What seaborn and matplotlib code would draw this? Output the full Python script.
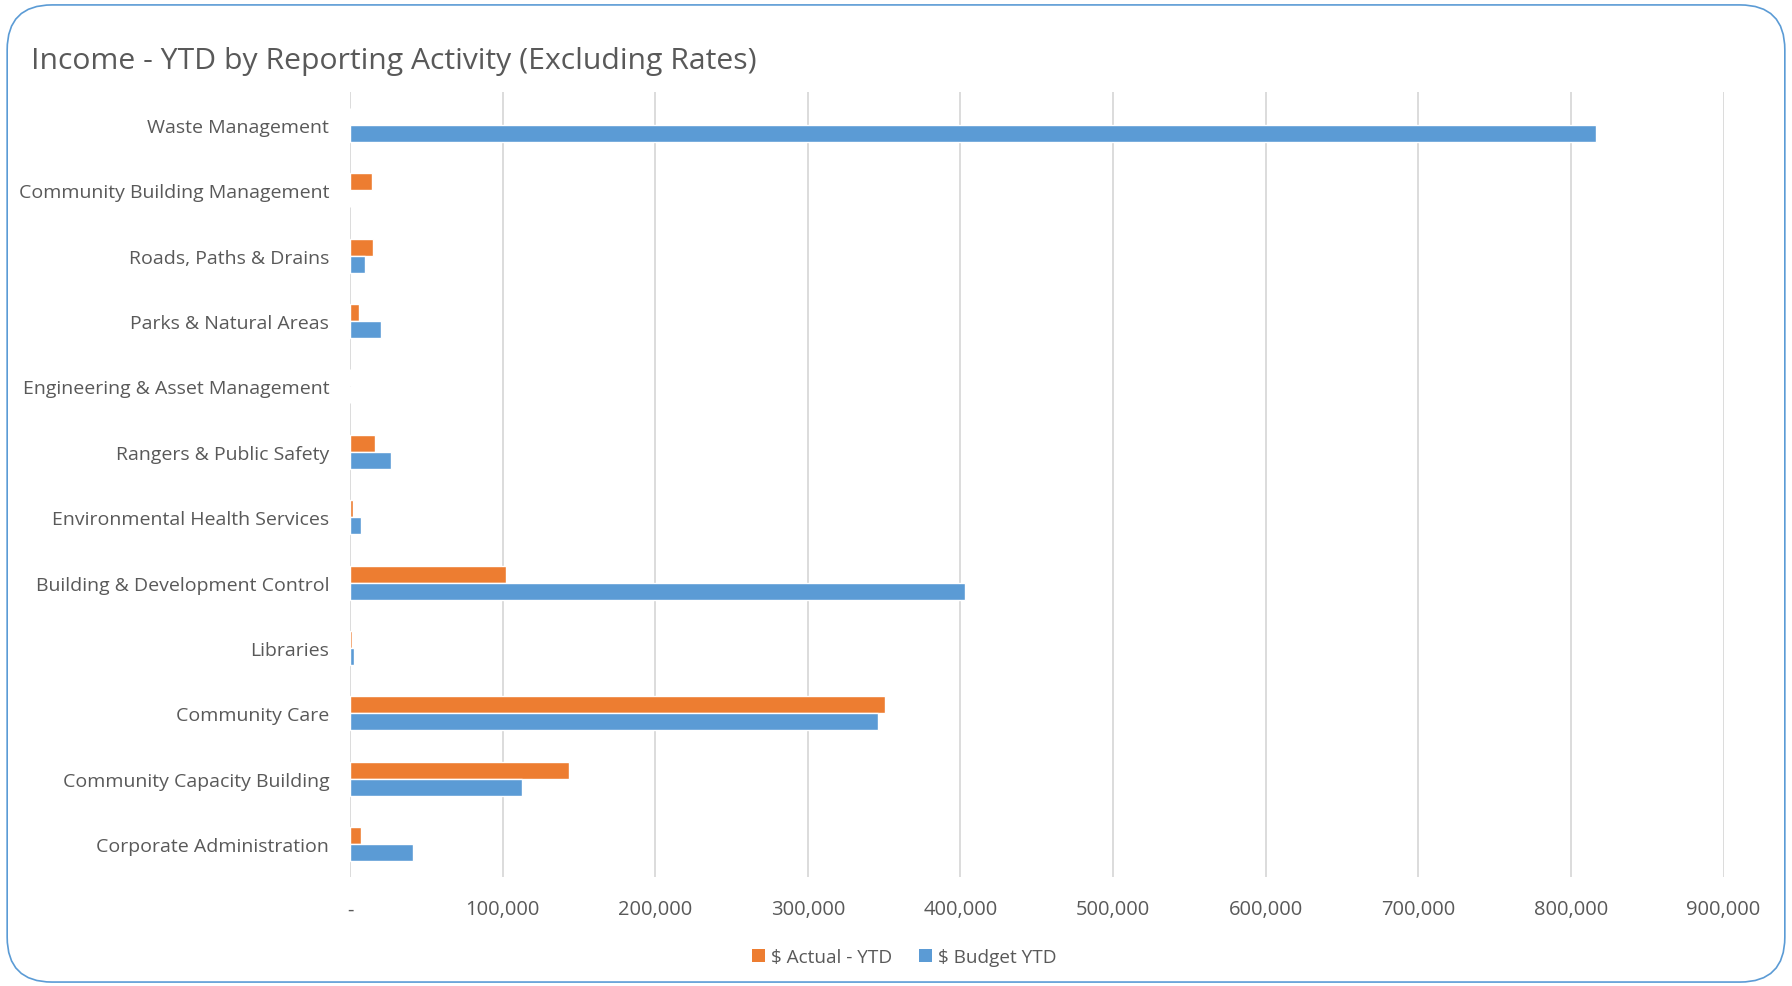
import matplotlib
matplotlib.use("Agg")
import matplotlib.pyplot as plt
from matplotlib.patches import FancyBboxPatch, Patch
from matplotlib.ticker import FuncFormatter
import seaborn as sns
import pandas as pd

categories = [
    "Waste Management",
    "Community Building Management",
    "Roads, Paths & Drains",
    "Parks & Natural Areas",
    "Engineering & Asset Management",
    "Rangers & Public Safety",
    "Environmental Health Services",
    "Building & Development Control",
    "Libraries",
    "Community Care",
    "Community Capacity Building",
    "Corporate Administration",
]
actual_ytd = [0, 14500, 15200, 6000, 0, 16700, 2100, 102000, 1400, 350800, 143600, 7200]
budget_ytd = [816300, 0, 9700, 20000, 0, 27200, 7300, 403300, 2500, 346300, 112800, 41000]
series_names = ["$ Actual - YTD", "$ Budget YTD"]
x_ticks = [0, 100000, 200000, 300000, 400000, 500000, 600000, 700000, 800000, 900000]

df = pd.DataFrame({
    "Activity": categories * 2,
    "Value": actual_ytd + budget_ytd,
    "Series": [series_names[0]] * len(categories) + [series_names[1]] * len(categories),
})

sns.set_theme(style="white")
FONT = ["Open Sans", "DejaVu Sans"]
plt.rcParams["font.family"] = FONT
TXT = "#595959"
colors = {series_names[0]: "#ED7D31", series_names[1]: "#5B9BD5"}

fig = plt.figure(figsize=(17.92, 9.87), dpi=100)
ax = fig.add_axes([0.1953, 0.1104, 0.9618 - 0.1953, 0.9058 - 0.1104])

sns.barplot(data=df, y="Activity", x="Value", hue="Series", order=categories,
            hue_order=series_names, palette=colors, orient="h", width=0.52,
            ax=ax, legend=False, saturation=1)

ax.set_xlim(0, 900000)
ax.set_xticks(x_ticks)
ax.xaxis.set_major_formatter(FuncFormatter(lambda v, p: "-" if v == 0 else f"{int(v):,}"))
ax.grid(axis="x", color="#D9D9D9", linewidth=1.3)
ax.grid(axis="y", visible=False)
ax.set_axisbelow(True)
for s in ax.spines.values():
    s.set_visible(False)
ax.set_xlabel("")
ax.set_ylabel("")
ax.tick_params(axis="x", colors=TXT, labelsize=14.5, length=0, pad=16)
ax.tick_params(axis="y", colors=TXT, labelsize=14, length=0, pad=15)
for lbl in ax.get_xticklabels() + ax.get_yticklabels():
    lbl.set_color(TXT)

handles = [Patch(facecolor=colors[s], edgecolor="none", label=s) for s in series_names]
fig.legend(handles=handles, loc="center", bbox_to_anchor=(0.5045, 0.029), ncol=2,
           frameon=False, fontsize=13.7, handlelength=0.7, handleheight=0.7,
           handletextpad=0.3, columnspacing=1.4, labelcolor=TXT)

fig.text(0.0173, 0.938, "Income - YTD by Reporting Activity (Excluding Rates)",
         fontsize=21.7, color=TXT, ha="left", va="center")

border = FancyBboxPatch((0.004, 0.004), 0.992, 0.99, boxstyle="round,pad=0,rounding_size=0.025",
                        transform=fig.transFigure, facecolor="none", edgecolor="#5B9BD5",
                        linewidth=1.2, mutation_aspect=1792 / 987)
fig.patches.append(border)

fig.savefig("out.png", dpi=100)
